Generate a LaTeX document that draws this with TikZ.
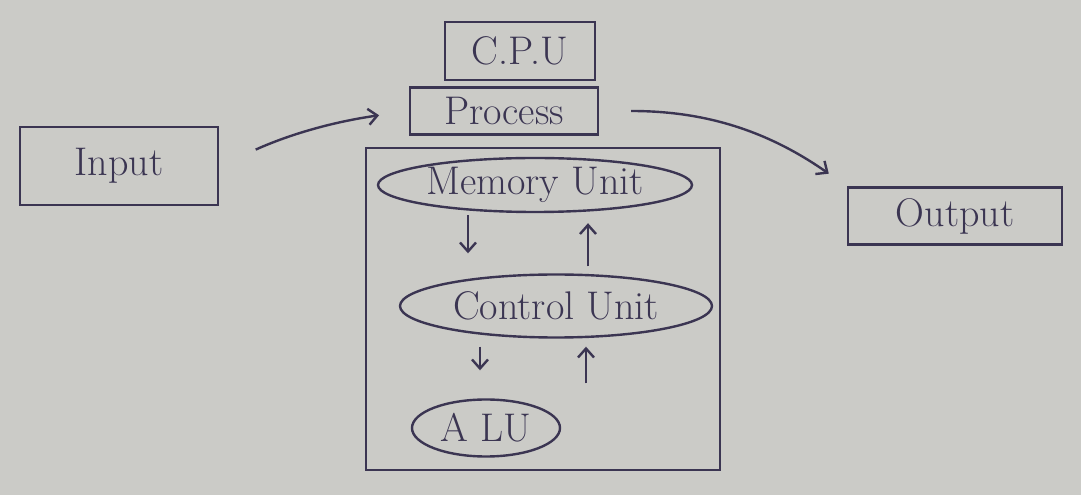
\documentclass[tikz,border=0pt]{standalone}
\usetikzlibrary{arrows.meta,calc,shapes.geometric}
\definecolor{ink}{HTML}{3B3552}
\definecolor{paper}{HTML}{CBCBC7}
\begin{document}
\begin{tikzpicture}[x=1pt,y=1pt,
  ink/.style={draw=ink,line width=2.4pt},
  box/.style={ink,rectangle,inner sep=0pt,text=ink,font=\fontsize{40}{44}\selectfont},
  oval/.style={ink,ellipse,inner sep=0pt,text=ink,font=\fontsize{40}{44}\selectfont},
  arr/.style={ink,-{Straight Barb[length=9pt,width=16pt,line width=2.4pt]}}]
\fill[paper] (0,0) rectangle (1081,495);
\useasboundingbox (0,0) rectangle (1081,495);
% nodes
\node[box,minimum width=150,minimum height=58] (cpu) at (520,444) {C.P.U};
\node[box,minimum width=188,minimum height=47] (proc) at (504,384) {Process};
\node[box,minimum width=198,minimum height=78] (in) at (119,329) {Input};
\node[box,minimum width=214,minimum height=57] (out) at (955,279) {Output};
\node[ink,rectangle,minimum width=354,minimum height=322] (frame) at (543,186) {};
\node[oval,minimum width=314,minimum height=54] (mem) at (535,310) {Memory Unit};
\node[oval,minimum width=312,minimum height=63] (ctrl) at (556,189) {Control Unit};
\node[oval,minimum width=148,minimum height=57] (alu) at (486,67) {A LU};
% helper columns
\coordinate (c1) at (468,0);
\coordinate (c2) at (588,0);
\coordinate (c3) at (480,0);
\coordinate (c4) at (586,0);
% connectors
\draw[arr,shorten <=2pt,shorten >=20pt] (mem.south -| c1) -- (ctrl.north -| c1);
\draw[arr,shorten <=7pt,shorten >=10pt] (ctrl.north -| c2) -- (mem.south -| c2);
\draw[arr,shorten <=8pt,shorten >=28pt] (ctrl.south -| c3) -- (alu.north -| c3);
\draw[arr,shorten <=15pt,shorten >=8pt] (alu.north -| c4) -- (ctrl.south -| c4);
\draw[arr,shorten <=40pt,shorten >=30pt] (in.east) to[bend left=8] (proc.west);
\draw[arr,shorten <=32pt,shorten >=22pt] (proc.east) to[out=0,in=145] (out.north west);
\end{tikzpicture}
\end{document}
